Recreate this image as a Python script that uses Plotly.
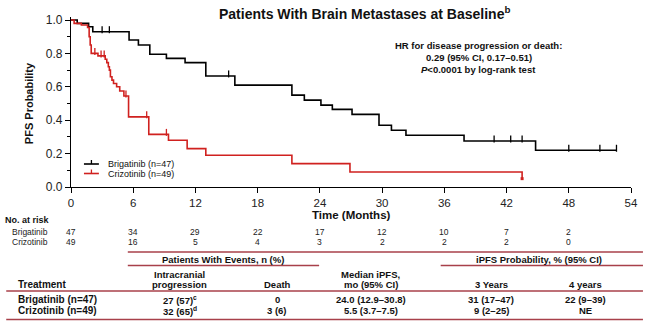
import numpy as np
import plotly.graph_objects as go

# ---------------- data ----------------
brig_t = [0, 0.6, 1.7, 2.1, 5.6, 6.5, 7.6, 9.2, 11.0, 13.0, 15.8, 21.3, 22.5, 24.1,
          25.2, 27.1, 29.7, 30.9, 32.3, 37.9, 44.8, 52.6]
brig_s = [1.0, 0.98, 0.96, 0.93, 0.88, 0.85, 0.795, 0.77, 0.745, 0.665, 0.61, 0.55,
          0.52, 0.49, 0.465, 0.435, 0.37, 0.34, 0.31, 0.275, 0.22, 0.22]
brig_censor = [3.0, 3.7, 15.2, 40.8, 42.4, 43.5, 48.0, 51.0, 52.6]

crz_t = [0, 0.3, 1.0, 1.6, 1.75, 1.85, 1.95, 2.6, 3.3, 3.45, 3.6, 3.7, 3.8, 3.95,
         4.1, 4.4, 4.7, 5.1, 5.55, 7.5, 9.4, 11.2, 13.0, 21.3, 26.9, 43.5]
crz_s = [1.0, 0.98, 0.97, 0.955, 0.90, 0.85, 0.80, 0.785, 0.765, 0.745, 0.72, 0.70,
         0.66, 0.64, 0.62, 0.60, 0.575, 0.545, 0.42, 0.315, 0.28, 0.23, 0.19, 0.14,
         0.09, 0.05]
crz_censor = [2.3, 2.9, 3.2, 5.3, 7.3, 9.2]

risk_times = [0, 6, 12, 18, 24, 30, 36, 42, 48]
risk_brig = [47, 34, 29, 22, 17, 12, 10, 7, 2]
risk_crz = [49, 16, 5, 4, 3, 2, 2, 2, 0]

x_ticks = [0, 6, 12, 18, 24, 30, 36, 42, 48, 54]
y_ticks = [0.0, 0.2, 0.4, 0.6, 0.8, 1.0]

arm_names = ["Brigatinib (n=47)", "Crizotinib (n=49)"]
risk_labels = ["Brigatinib", "Crizotinib"]
ic_progression = ["27 (57)<sup>c</sup>", "32 (65)<sup>d</sup>"]
deaths = ["0", "3 (6)"]
median_ipfs = ["24.0 (12.9–30.8)", "5.5 (3.7–7.5)"]
ipfs_3y = ["31 (17–47)", "9 (2–25)"]
ipfs_4y = ["22 (9–39)", "NE"]

# ---------------- layout helpers ----------------
W, H = 650, 324
L, R, T, B = 71, 17, 17, 137
PW, PH = W - L - R, H - T - B
FONT = "Liberation Sans, Arial, sans-serif"
BLACK = "#000000"
RED = "#d0211f"
RULE = "#a8404a"


def px(x):
    return (x - L) / PW


def py(y):
    return (H - B - y) / PH


def step_at(times, surv, t):
    i = np.searchsorted(np.array(times), t, side="right") - 1
    return surv[max(i, 0)]


fig = go.Figure()

for t, s, cens, col in [(brig_t, brig_s, brig_censor, BLACK),
                        (crz_t, crz_s, crz_censor, RED)]:
    fig.add_trace(go.Scatter(x=t, y=s, mode="lines", line=dict(color=col, width=1.6, shape="hv"),
                             showlegend=False, hoverinfo="skip"))
    cy = [step_at(t, s, c) + 0.012 for c in cens]
    fig.add_trace(go.Scatter(x=cens, y=cy, mode="markers",
                             marker=dict(symbol="line-ns", size=5, line=dict(color=col, width=1.3)),
                             showlegend=False, hoverinfo="skip"))

# end point of crizotinib curve
fig.add_trace(go.Scatter(x=[crz_t[-1]], y=[crz_s[-1]], mode="markers",
                         marker=dict(symbol="square", size=3, color=RED),
                         showlegend=False, hoverinfo="skip", cliponaxis=False))

fig.update_xaxes(range=[0, 54], tickvals=x_ticks, ticktext=[str(v) for v in x_ticks],
                 showline=True, linecolor=BLACK, linewidth=1.2, ticks="outside", ticklen=5,
                 tickwidth=1.2, tickcolor=BLACK, showgrid=False, zeroline=False,
                 tickfont=dict(family=FONT, size=11.5, color="#222"))
fig.update_yaxes(range=[0, PH / 167.0], tickvals=y_ticks, ticktext=[f"{v:.1f}" for v in y_ticks],
                 showline=True, linecolor=BLACK, linewidth=1.2, ticks="outside", ticklen=5,
                 tickwidth=1.2, tickcolor=BLACK, showgrid=False, zeroline=False,
                 minor=dict(ticks="outside", ticklen=3, tickvals=[0.1, 0.3, 0.5, 0.7, 0.9],
                            tickcolor=BLACK, tickwidth=1),
                 tickfont=dict(family=FONT, size=12, color="#222"))

ann = []
shapes = []


def text(x, y, s, size=9, bold=False, anchor="center", color="#111", xref="paper", angle=0):
    ann.append(dict(x=x if xref == "x" else px(x), y=py(y), xref=xref, yref="paper",
                    text=f"<b>{s}</b>" if bold else s, showarrow=False, xanchor=anchor,
                    yanchor="middle", textangle=angle,
                    font=dict(family=FONT, size=size, color=color)))


# title & axis titles
text(366, 13, "Patients With Brain Metastases at Baseline<sup>b</sup>", size=14, bold=True)
text(353, 215, "Time (Months)", size=11.5, bold=True)
text(29, 103, "PFS Probability", size=11, bold=True, angle=-90)

# HR annotation
text(480, 45, "HR for disease progression or death:", size=9.5, bold=True)
text(480, 57, "0.29 (95% CI, 0.17–0.51)", size=9.5, bold=True)
text(480, 69, "<i>P</i><0.0001 by log-rank test", size=9.5, bold=True)

# legend (manual)
for yy, col, name in [(164, BLACK, arm_names[0]), (173.5, RED, arm_names[1])]:
    shapes.append(dict(type="line", xref="paper", yref="paper", x0=px(84), x1=px(99),
                       y0=py(yy), y1=py(yy), line=dict(color=col, width=1.6)))
    shapes.append(dict(type="line", xref="paper", yref="paper", x0=px(91.5), x1=px(91.5),
                       y0=py(yy), y1=py(yy - 4), line=dict(color=col, width=1.3)))
    text(106, yy, name, size=9, anchor="left", color="#111")

# number at risk
text(3, 220, "No. at risk", size=9, bold=True, anchor="left")
for yy, lab, vals in [(232, risk_labels[0], risk_brig), (241.5, risk_labels[1], risk_crz)]:
    text(10, yy, lab, size=8.5, anchor="left", color="#222")
    for t, v in zip(risk_times, vals):
        text(t, yy, str(v), size=8.5, xref="x", color="#222")

# table rules
for y0, segs in [(252, [(128, 645)]), (265.5, [(128, 320), (442, 645)]),
                 (291, [(6, 645)]), (319.5, [(6, 645)])]:
    for a, b in segs:
        shapes.append(dict(type="line", xref="paper", yref="paper", x0=px(a), x1=px(b),
                           y0=py(y0), y1=py(y0), line=dict(color=RULE, width=1.5)))

# table headers
text(224, 259, "Patients With Events, n (%)", size=9.5, bold=True)
text(541, 259, "iPFS Probability, % (95% CI)", size=9.5, bold=True)
text(180, 274.5, "Intracranial", size=9.5, bold=True)
text(180, 284, "progression", size=9.5, bold=True)
text(16, 284.5, "Treatment", size=10, bold=True, anchor="left")
text(278, 284.5, "Death", size=9.5, bold=True)
text(372, 274.5, "Median iPFS,", size=9.5, bold=True)
text(372, 284, "mo (95% CI)", size=9.5, bold=True)
text(493, 284.5, "3 Years", size=9.5, bold=True)
text(587, 284.5, "4 years", size=9.5, bold=True)

# table rows
for i, yy in enumerate([299.5, 310.5]):
    text(16, yy, arm_names[i], size=10, bold=True, anchor="left")
    text(180, yy, ic_progression[i], size=9.5, bold=True)
    text(278, yy, deaths[i], size=9.5, bold=True)
    text(372, yy, median_ipfs[i], size=9.5, bold=True)
    text(493, yy, ipfs_3y[i], size=9.5, bold=True)
    text(587, yy, ipfs_4y[i], size=9.5, bold=True)

fig.update_layout(width=W, height=H, margin=dict(l=L, r=R, t=T, b=B),
                  paper_bgcolor="white", plot_bgcolor="white",
                  annotations=ann, shapes=shapes, showlegend=False,
                  font=dict(family=FONT))

fig.write_html("out.html")
